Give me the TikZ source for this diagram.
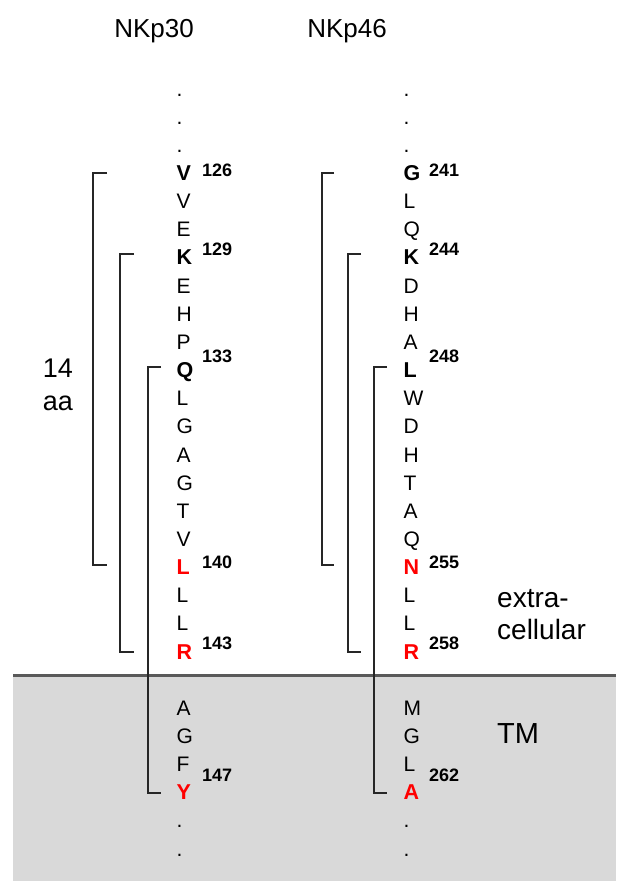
\documentclass[tikz,border=0pt]{standalone}
\usepackage{fontspec}
\setmainfont{Liberation Sans}
\definecolor{tmgray}{HTML}{D9D9D9}
\definecolor{tmline}{HTML}{595959}
\begin{document}
\begin{tikzpicture}[x=1pt,y=-1pt,
  res/.style={anchor=base west, inner sep=0pt, font=\fontsize{21}{24}\selectfont},
  resn/.style={res},
  resb/.style={res, font=\fontsize{21.5}{24}\selectfont\bfseries},
  resr/.style={resb, text=red},
  num/.style={anchor=base west, inner sep=0pt, font=\fontsize{18}{20}\selectfont\bfseries},
  lbl/.style={inner sep=0pt, font=\fontsize{27}{30}\selectfont},
  brk/.style={line width=1.5pt, black!85}]
\useasboundingbox (0,0) rectangle (616,881);
% membrane region
\fill[tmgray] (13,675) rectangle (616,881);
\draw[tmline, line width=3pt] (13,675) -- (616,675);
% titles
\node[lbl, anchor=base, font=\fontsize{26}{30}\selectfont] (t30) at (154,37) {NKp30};
\node[lbl, anchor=base, font=\fontsize{26}{30}\selectfont] (t46) at (347,37) {NKp46};
% brackets
\foreach \nm/\xr/\xl/\yt/\yb in {a1/107/93/173/565, a2/134/120/254/652, a3/161/148/367/793,
                                 b1/334/322/173/565, b2/361/348/254/652, b3/387/374/367/793}{
  \coordinate (\nm t) at (\xr,\yt);
  \coordinate (\nm b) at (\xr,\yb);
  \draw[brk] (\nm t) -- (\xl,\yt) |- (\nm b);
}
% NKp30 sequence
\foreach \ch/\st [count=\i from 0] in {V/b,V/n,E/n,K/b,E/n,H/n,P/n,Q/b,L/n,G/n,A/n,G/n,T/n,V/n,L/r,L/n,L/n,R/r}
  \node[res\st] (p\i) at (176.5,{180.5+28.15*\i}) {\ch};
\foreach \ch/\st [count=\i from 19] in {A/n,G/n,F/n,Y/r}
  \node[res\st] (p\i) at (176.5,{180.5+28.15*\i}) {\ch};
% NKp46 sequence
\foreach \ch/\st [count=\i from 0] in {G/b,L/n,Q/n,K/b,D/n,H/n,A/n,L/b,W/n,D/n,H/n,T/n,A/n,Q/n,N/r,L/n,L/n,R/r}
  \node[res\st] (q\i) at (403.5,{180.5+28.15*\i}) {\ch};
\foreach \ch/\st [count=\i from 19] in {M/n,G/n,L/n,A/r}
  \node[res\st] (q\i) at (403.5,{180.5+28.15*\i}) {\ch};
% dots
\foreach \r in {-3,-2,-1,23,24}{
  \node[resn] (pd\r) at (176.5,{180.5+28.15*\r}) {.};
  \node[resn] (qd\r) at (403.5,{180.5+28.15*\r}) {.};
}
% residue numbers
\foreach \na/\nb/\y in {126/241/176, 129/244/255, 133/248/362.5, 140/255/568, 143/258/649.5, 147/262/781.5}{
  \node[num] (n\na) at (202,\y) {\na};
  \node[num] (n\nb) at (429,\y) {\nb};
}
% labels
\node[lbl, anchor=base east] (l14) at (73,377) {14};
\node[lbl, anchor=base east] (laa) at (73,410) {aa};
\node[lbl, anchor=base west, font=\fontsize{28}{30}\selectfont] (lex) at (497,607) {extra-};
\node[lbl, anchor=base west, font=\fontsize{28}{30}\selectfont] (lce) at (497,639) {cellular};
\node[lbl, anchor=base west, font=\fontsize{29}{32}\selectfont] (ltm) at (497,743) {TM};
\end{tikzpicture}
\end{document}
